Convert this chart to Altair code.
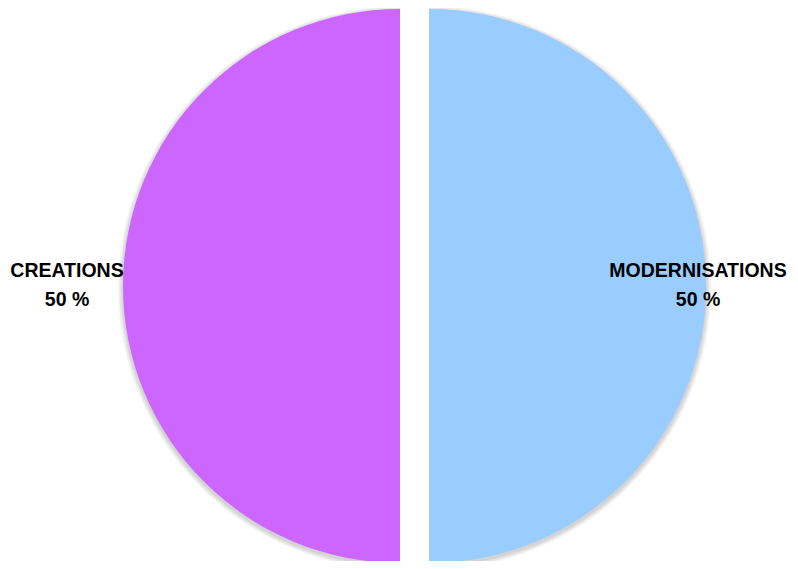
import altair as alt
import pandas as pd

categories = ["MODERNISATIONS", "CREATIONS"]
values = [50, 50]
explode = [1, -1]
colors = ["#99CCFF", "#CC66FF"]

df = pd.DataFrame({"category": categories, "value": values, "explode": explode,
                   "idx": list(range(len(categories)))})

base = alt.Chart(df).transform_joinaggregate(total="sum(value)").transform_window(
    cum="sum(value)", sort=[alt.SortField("idx")], frame=[None, 0]
).transform_calculate(
    t0="(datum.cum - datum.value) / datum.total * 2 * PI",
    t1="datum.cum / datum.total * 2 * PI",
    pct="round(datum.value / datum.total * 100)",
    label="datum.category + '\\n' + datum.pct + ' %'"
)

xenc = alt.X("explode:Q", scale=alt.Scale(domain=[-1, 1], range=[392, 421]), axis=None)
theta = alt.Theta("t0:Q", scale=None)
theta2 = alt.Theta2("t1:Q")

shadows = [
    base.mark_arc(radius=277 + k, color="#000000", opacity=0.035).encode(
        x=xenc, y=alt.value(280), theta=theta, theta2=theta2)
    for k in (1, 2, 3, 4, 5)
]

pie = base.mark_arc(radius=277).encode(
    x=xenc, y=alt.value(278), theta=theta, theta2=theta2,
    color=alt.Color("category:N", scale=alt.Scale(domain=categories, range=colors), legend=None),
)

txt_style = dict(font="Liberation Sans", fontSize=19.5, fontWeight="bold", color="#000000",
                 lineBreak="\n", lineHeight=29, baseline="middle", align="center")

left_txt = base.transform_filter(alt.datum.explode < 0).mark_text(dx=-333, **txt_style).encode(
    x=xenc, y=alt.value(263), text="label:N")
right_txt = base.transform_filter(alt.datum.explode > 0).mark_text(dx=269, **txt_style).encode(
    x=xenc, y=alt.value(263), text="label:N")

chart = alt.layer(*shadows, pie, left_txt, right_txt).properties(
    width=782, height=553, padding=0, autosize=alt.AutoSizeParams(type="none"),
    background="#FFFFFF"
).configure_view(stroke=None)

chart.save("out.html", embed_options={"renderer": "svg", "actions": False})
